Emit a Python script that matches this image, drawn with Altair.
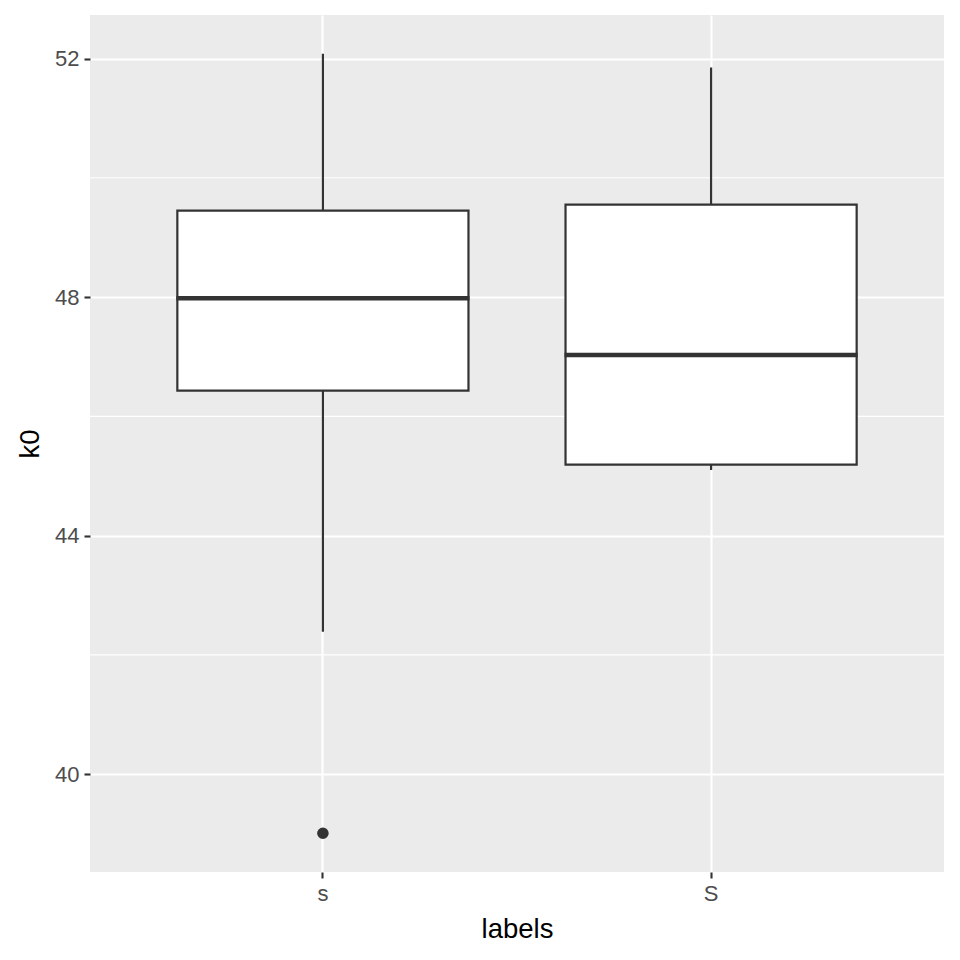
import altair as alt
import pandas as pd

labels = ["s", "S"]
lower_whisker = [42.39, 45.10]
q1 = [46.43, 45.19]
median = [47.98, 47.03]
q3 = [49.45, 49.55]
upper_whisker = [52.08, 51.85]

outlier_labels = ["s"]
outlier_values = [39.01]

minor_breaks = [42, 46, 50]
major_breaks = [40, 44, 48, 52]

W, H = 854, 857
Y_DOMAIN = [38.36, 52.73]

box = pd.DataFrame({
    "labels": labels, "lo": lower_whisker, "q1": q1, "med": median,
    "q3": q3, "hi": upper_whisker,
})
out = pd.DataFrame({"labels": outlier_labels, "k0": outlier_values})
minor = pd.DataFrame({"v": minor_breaks})

xscale = alt.Scale(domain=labels, paddingInner=0.25, paddingOuter=0.225)
yscale = alt.Scale(domain=Y_DOMAIN, nice=False, zero=False)

xaxis = alt.Axis(title="labels", bandPosition=0.5, labelAngle=0)
yaxis = alt.Axis(title="k0", values=major_breaks)

base = alt.Chart(box)

minor_layer = alt.Chart(minor).mark_rule(color="white", strokeWidth=1.1).encode(
    y=alt.Y("v:Q", scale=yscale, axis=yaxis)
)

whisk = base.mark_rule(color="#333333", strokeWidth=2.2).encode(
    x=alt.X("labels:N", scale=xscale, axis=xaxis, sort=labels),
    y=alt.Y("lo:Q", scale=yscale, axis=yaxis),
    y2="hi:Q",
)

boxes = base.mark_bar(fill="white", stroke="#333333", strokeWidth=2.2).encode(
    x=alt.X("labels:N", scale=xscale, axis=xaxis, sort=labels),
    y=alt.Y("q1:Q", scale=yscale, axis=yaxis),
    y2="q3:Q",
)

step = W / 2.2
med = base.mark_tick(color="#333333", thickness=4.5, size=0.75 * step + 2, opacity=1,
                     orient="horizontal").encode(
    x=alt.X("labels:N", scale=xscale, axis=xaxis, sort=labels),
    y=alt.Y("med:Q", scale=yscale, axis=yaxis),
)

pts = alt.Chart(out).mark_circle(color="#333333", size=135, opacity=1).encode(
    x=alt.X("labels:N", scale=xscale, axis=xaxis, sort=labels),
    y=alt.Y("k0:Q", scale=yscale, axis=yaxis),
)

chart = alt.layer(minor_layer, whisk, boxes, med, pts).properties(
    width=W, height=H,
    background="white",
    autosize=alt.AutoSizeParams(type="none"),
    padding={"left": 82, "top": 7, "right": 8, "bottom": 80},
).configure_view(
    fill="#EBEBEB", stroke=None
).configure_axis(
    grid=True, gridColor="white", gridWidth=2.1, domain=False,
    tickColor="#333333", tickWidth=2.1, tickSize=6,
    labelColor="#4D4D4D", labelFontSize=22, labelPadding=5,
    labelFont="Liberation Sans", titleFont="Liberation Sans",
    titleFontSize=27.5, titleFontWeight="normal", titleColor="black",
).configure_axisX(titlePadding=11).configure_axisY(titlePadding=10)

chart.save("out.html", embed_options={"renderer": "svg", "actions": False})
